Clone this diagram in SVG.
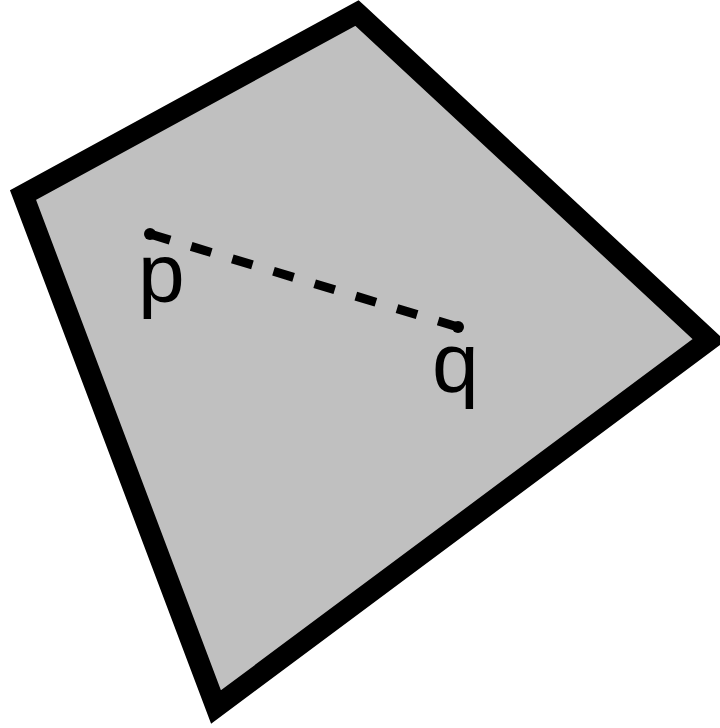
<svg xmlns="http://www.w3.org/2000/svg" width="720" height="728" viewBox="0 0 720 728">
<style>
.shape{fill:#c0c0c0;stroke:#000;stroke-width:21;stroke-linejoin:miter;stroke-miterlimit:10}
.seg{stroke:#000;stroke-width:9;stroke-dasharray:21 22;fill:none}
.pt{fill:#000}
.lbl{font-family:"Liberation Sans",Arial,sans-serif;font-size:84px;fill:#000}
</style>
<g id="quad">
<polygon class="shape" points="357,13 709,340 216,707 23,195"/>
</g>
<g id="connectors">
<line class="seg" x1="150" y1="234" x2="458" y2="327"/>
</g>
<g id="p">
<circle class="pt" cx="150" cy="234" r="6"/>
<text class="lbl" x="138" y="302">p</text>
</g>
<g id="q">
<circle class="pt" cx="458" cy="327" r="6"/>
<text class="lbl" x="432" y="392">q</text>
</g>
</svg>
